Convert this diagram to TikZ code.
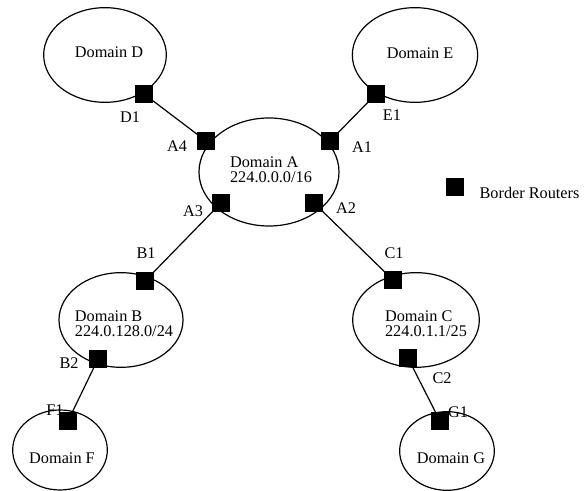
\documentclass[tikz,border=0pt]{standalone}
\usepackage{fontspec}
\setmainfont{Liberation Serif}
\usetikzlibrary{shapes.geometric}

\tikzset{every picture/.style={line width=0.9pt}}
\tikzset{
  domainshape/.style={draw, ellipse, inner sep=0pt},
  router/.style={draw, fill=black, rectangle, minimum size=12pt, inner sep=0pt},
  rlabel/.style={inner sep=0.75pt, font=\fontsize{12.2}{12}\selectfont},
  dtext/.style={inner sep=0.75pt, align=left, font=\fontsize{12.2}{11}\selectfont}
}

\begin{document}
\begin{tikzpicture}[x=0.75pt,y=0.75pt,yscale=-1,xscale=1]
\useasboundingbox (0,0) rectangle (587,491);

% Domains
\node [domainshape, minimum width=92pt, minimum height=71pt] (dD) at (105,55) {};
\node [domainshape, minimum width=94pt, minimum height=71pt] (dE) at (415,55) {};
\node [domainshape, minimum width=105pt, minimum height=81pt] (dA) at (269,172) {};
\node [domainshape, minimum width=93pt, minimum height=71pt] (dB) at (121,320) {};
\node [domainshape, minimum width=95pt, minimum height=71pt] (dC) at (416,320) {};
\node [domainshape, minimum width=71pt, minimum height=60pt] (dF) at (60,450) {};
\node [domainshape, minimum width=71pt, minimum height=59pt] (dG) at (447,451) {};

% Domain texts
\node [dtext] (tD) at (109,52) {Domain D};
\node [dtext] (tE) at (420,53) {Domain E};
\node [dtext] (tA) at (271,170) {Domain A\\224.0.0.0/16};
\node [dtext] (tB) at (124,324) {Domain B\\224.0.128.0/24};
\node [dtext] (tC) at (426,324) {Domain C\\224.0.1.1/25};
\node [dtext] (tF) at (62,458) {Domain F};
\node [dtext] (tG) at (451,458) {Domain G};

% Links
\draw (206,141) coordinate (pA4) -- (144,94) coordinate (pD1);
\draw (330,141) coordinate (pA1) -- (376,94) coordinate (pE1);
\draw (221,203) coordinate (pA3) -- (145,281) coordinate (pB1);
\draw (314,203) coordinate (pA2) -- (393,280) coordinate (pC1);
\draw (98,359) coordinate (pB2) -- (68,421) coordinate (pF1);
\draw (408,358) coordinate (pC2) -- (440,421) coordinate (pG1);

% Router labels
\node [rlabel] (lD1) at (130,117) {D1};
\node [rlabel] (lE1) at (392,115) {E1};
\node [rlabel] (lA4) at (177,146) {A4};
\node [rlabel] (lA1) at (362,147) {A1};
\node [rlabel] (lA3) at (193,211) {A3};
\node [rlabel] (lA2) at (346,208) {A2};
\node [rlabel] (lB1) at (146,253) {B1};
\node [rlabel] (lC1) at (394,253) {C1};
\node [rlabel] (lB2) at (69,363) {B2};
\node [rlabel] (lC2) at (442,378) {C2};
\node [rlabel] (lF1) at (55,410) {F1};
\node [rlabel] (lG1) at (458,412) {G1};

% Border routers
\node [router] (D1) at (pD1) {};
\node [router] (E1) at (pE1) {};
\node [router] (A1) at (pA1) {};
\node [router] (A2) at (pA2) {};
\node [router] (A3) at (pA3) {};
\node [router] (A4) at (pA4) {};
\node [router] (B1) at (pB1) {};
\node [router] (B2) at (pB2) {};
\node [router] (C1) at (pC1) {};
\node [router] (C2) at (pC2) {};
\node [router] (F1) at (pF1) {};
\node [router] (G1) at (pG1) {};

% Legend
\node [router] (key) at (455,187) {};
\node [rlabel, anchor=west] (keytext) at (478,193) {Border Routers};

\end{tikzpicture}
\end{document}
